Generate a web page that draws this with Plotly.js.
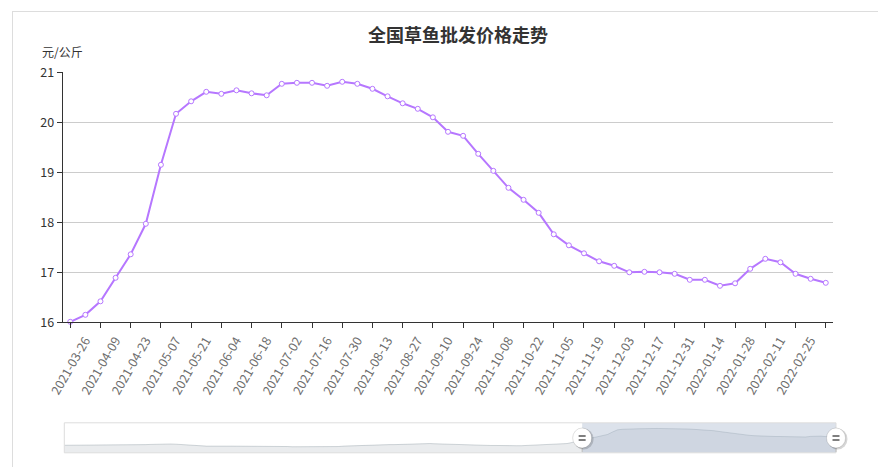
<!DOCTYPE html>
<html>
<head>
<meta charset="utf-8">
<script src="https://cdn.plot.ly/plotly-3.0.1.min.js"></script>
<style>
  html, body { margin: 0; padding: 0; background: #fff; }
  #chart { width: 887px; height: 467px; }
</style>
</head>
<body>
<div id="chart"></div>
<script>
// ---- data ----
const chartTitle = '全国草鱼批发价格走势';
const yUnit = '元/公斤';

const dates = [
  '2021-03-26','2021-04-02','2021-04-09','2021-04-16','2021-04-23','2021-04-30',
  '2021-05-07','2021-05-14','2021-05-21','2021-05-28','2021-06-04','2021-06-11',
  '2021-06-18','2021-06-25','2021-07-02','2021-07-09','2021-07-16','2021-07-23',
  '2021-07-30','2021-08-06','2021-08-13','2021-08-20','2021-08-27','2021-09-03',
  '2021-09-10','2021-09-17','2021-09-24','2021-10-01','2021-10-08','2021-10-15',
  '2021-10-22','2021-10-29','2021-11-05','2021-11-12','2021-11-19','2021-11-26',
  '2021-12-03','2021-12-10','2021-12-17','2021-12-24','2021-12-31','2022-01-07',
  '2022-01-14','2022-01-21','2022-01-28','2022-02-04','2022-02-11','2022-02-18',
  '2022-02-25','2022-03-04','2022-03-11'
];

const prices = [
  16.01, 16.15, 16.42, 16.89, 17.36, 17.97, 19.15, 20.17, 20.42, 20.61,
  20.57, 20.64, 20.58, 20.54, 20.77, 20.79, 20.79, 20.73, 20.81, 20.77,
  20.67, 20.52, 20.38, 20.27, 20.10, 19.81, 19.73, 19.37, 19.03, 18.69,
  18.45, 18.19, 17.76, 17.54, 17.38, 17.22, 17.13, 17.00, 17.01, 17.00,
  16.97, 16.85, 16.85, 16.73, 16.78, 17.07, 17.27, 17.20, 16.97, 16.87,
  16.79
];

// earlier weekly prices, only visible in the zoom slider's overview
const earlierPrices = [
  12.9, 12.9, 13.0, 13.0, 13.0, 13.1, 13.1, 13.1, 13.2, 13.2,
  13.2, 13.2, 13.2, 13.1, 13.1, 13.1, 13.2, 13.3, 13.4, 13.5,
  13.5, 13.5, 13.4, 13.2, 13.0, 12.8, 12.6, 12.5, 12.5, 12.5,
  12.4, 12.4, 12.5, 12.5, 12.5, 12.6, 12.6, 12.6, 12.5, 12.5,
  12.5, 12.4, 12.4, 12.3, 12.3, 12.2, 12.2, 12.1, 12.1, 12.0,
  12.0, 12.0, 12.0, 12.1, 12.3, 12.5, 12.6, 12.8, 12.9, 13.0,
  13.0, 13.0, 13.1, 13.1, 13.2, 13.2, 13.3, 13.3, 13.4, 13.5,
  13.6, 13.7, 13.7, 13.6, 13.5, 13.4, 13.3, 13.2, 13.1, 13.0,
  13.0, 12.9, 12.9, 12.8, 12.8, 12.8, 12.7, 12.7, 12.7, 12.7,
  12.7, 12.8, 12.8, 12.9, 13.0, 13.1, 13.2, 13.3, 13.5, 13.7,
  14.2, 14.9
];

const yTicks = [16, 17, 18, 19, 20, 21];

// ---- derived ----
const tickIdx = dates.map((d, i) => i).filter(i => i % 2 === 0);
const tickVals = tickIdx.map(i => dates[i]);
const tickText = tickIdx.map(i => (i === dates.length - 1 ? '' : dates[i]));

const allPrices = earlierPrices.concat(prices);
const N = allPrices.length;
const allIdx = allPrices.map((v, i) => i);
const winStart = earlierPrices.length;
const winEnd = N - 1;
const pMin = Math.min(...allPrices), pMax = Math.max(...allPrices);
const pad = (pMax - pMin) * 0.3;

// ---- layout helpers (pixel -> paper) ----
const W = 887, H = 467;
const X = p => p / W;
const Y = p => 1 - p / H;
const sDom = [X(64.3), X(836)];
const hx = i => sDom[0] + i / (N - 1) * (sDom[1] - sDom[0]);

const purple = '#b677ff';

const traces = [
  {
    type: 'scatter', mode: 'lines+markers',
    x: dates, y: prices, xaxis: 'x', yaxis: 'y',
    line: { color: purple, width: 2 },
    marker: { symbol: 'circle', size: 5, color: '#fff', line: { color: purple, width: 1 } },
    cliponaxis: false, hoverinfo: 'skip'
  },
  {
    type: 'scatter', mode: 'lines',
    x: allIdx, y: allPrices, xaxis: 'x2', yaxis: 'y2',
    line: { color: 'rgba(47,69,84,0.25)', width: 0.8 },
    fill: 'tozeroy', fillcolor: 'rgba(47,69,84,0.1)',
    hoverinfo: 'skip'
  }
];

const shapes = [
  // container border (top + left)
  { type: 'line', xref: 'paper', yref: 'paper', x0: X(12), x1: X(878), y0: Y(11.5), y1: Y(11.5), line: { color: '#ddd', width: 1 } },
  { type: 'line', xref: 'paper', yref: 'paper', x0: X(12.5), x1: X(12.5), y0: Y(11.5), y1: Y(470), line: { color: '#ddd', width: 1 } },
  // slider selected window
  { type: 'rect', xref: 'x2', yref: 'y2', x0: winStart, x1: winEnd, y0: pMin - pad, y1: pMax + pad,
    fillcolor: 'rgba(167,183,204,0.4)', line: { width: 0 }, layer: 'above' },
  // slider border
  { type: 'rect', xref: 'x2 domain', yref: 'y2 domain', x0: 0, x1: 1, y0: 0, y1: 1,
    line: { color: '#ddd', width: 1 }, fillcolor: 'rgba(0,0,0,0)', layer: 'above' }
];

[winStart, winEnd].forEach(i => {
  const cx = hx(i);
  shapes.push({ type: 'line', xref: 'paper', yref: 'paper', xsizemode: 'pixel', xanchor: cx, x0: 0, x1: 0,
    y0: Y(452), y1: Y(446), line: { color: '#bbb', width: 1 }, layer: 'above' });
  shapes.push({ type: 'circle', xref: 'paper', yref: 'paper', xsizemode: 'pixel', xanchor: cx, x0: -8.5, x1: 11.5,
    y0: Y(449.5), y1: Y(428.5), fillcolor: 'rgba(0,0,0,0.16)', line: { width: 0 }, layer: 'above' });
  shapes.push({ type: 'circle', xref: 'paper', yref: 'paper', xsizemode: 'pixel', xanchor: cx, x0: -9.5, x1: 9.5,
    y0: Y(448), y1: Y(428), fillcolor: '#fff', line: { color: 'rgba(0,0,0,0.12)', width: 1 }, layer: 'above' });
  shapes.push({ type: 'line', xref: 'paper', yref: 'paper', xsizemode: 'pixel', xanchor: cx, x0: -3.5, x1: 3.5,
    y0: Y(436), y1: Y(436), line: { color: '#555', width: 1.5 }, layer: 'above' });
  shapes.push({ type: 'line', xref: 'paper', yref: 'paper', xsizemode: 'pixel', xanchor: cx, x0: -3.5, x1: 3.5,
    y0: Y(440), y1: Y(440), line: { color: '#555', width: 1.5 }, layer: 'above' });
});

const FONT = '"Noto Sans CJK SC", "Noto Sans", "DejaVu Sans", sans-serif';

const layout = {
  width: W, height: H,
  margin: { l: 0, r: 0, t: 0, b: 0 },
  paper_bgcolor: '#fff', plot_bgcolor: 'rgba(0,0,0,0)',
  showlegend: false,
  font: { family: FONT, size: 12, color: '#333' },
  title: {
    text: chartTitle, xref: 'container', yref: 'container',
    x: X(458), y: Y(36), xanchor: 'center', yanchor: 'middle',
    font: { family: FONT, size: 18, weight: 700, color: '#333' }
  },
  xaxis: {
    domain: [X(62.7), X(833.3)], anchor: 'y',
    type: 'category', range: [-0.5, dates.length - 0.5],
    tickmode: 'array', tickvals: tickVals, ticktext: tickText,
    ticks: 'outside', ticklen: 5, tickcolor: '#333', tickwidth: 1,
    showline: true, linecolor: '#333', linewidth: 1,
    showgrid: false, zeroline: false,
    tickangle: -60, ticklabelshift: 15,
    tickfont: { family: FONT, size: 12.5, color: '#6e6e6e' },
    fixedrange: true
  },
  yaxis: {
    domain: [Y(322.3), Y(72.3)], anchor: 'x',
    range: [yTicks[0], yTicks[yTicks.length - 1]],
    tickmode: 'array', tickvals: yTicks, ticktext: yTicks.map(String),
    ticks: 'outside', ticklen: 5, tickcolor: '#333', tickwidth: 1,
    showline: true, linecolor: '#333', linewidth: 1,
    showgrid: true, gridcolor: '#ccc', gridwidth: 1, zeroline: false,
    tickfont: { family: FONT, size: 12.5, color: '#333' },
    fixedrange: true
  },
  xaxis2: { domain: sDom, anchor: 'y2', range: [0, N - 1], visible: false, fixedrange: true },
  yaxis2: { domain: [Y(452.8), Y(422.8)], anchor: 'x2', range: [pMin - pad, pMax + pad], visible: false, fixedrange: true },
  shapes: shapes,
  annotations: [
    { text: yUnit, xref: 'paper', yref: 'paper', x: X(40), y: Y(52), xanchor: 'left', yanchor: 'middle',
      showarrow: false, font: { family: FONT, size: 12, color: '#333' } }
  ]
};

Plotly.newPlot('chart', traces, layout, { displayModeBar: false, staticPlot: true });
</script>
</body>
</html>
